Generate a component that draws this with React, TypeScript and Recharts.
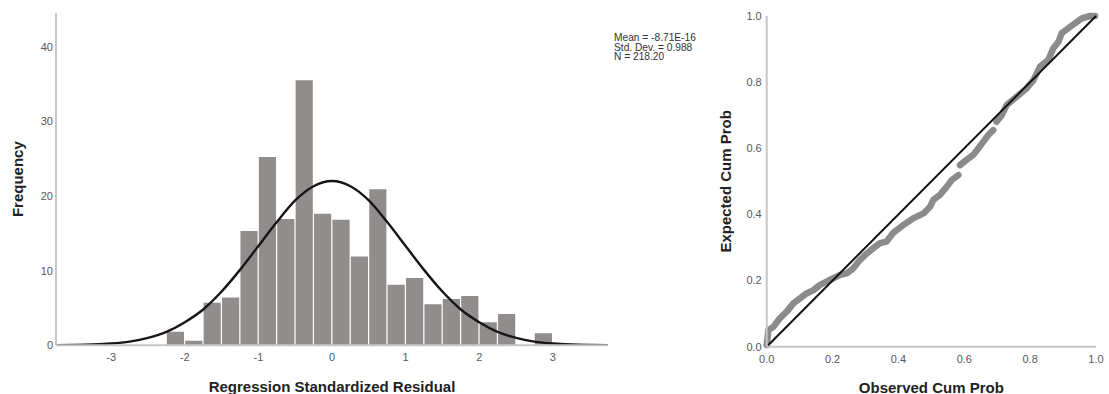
import { Bar, ComposedChart, Line, Rectangle, XAxis, YAxis } from 'recharts';

// Histogram bins (width 0.25) of the standardized residuals
const binCenters = [
  -2.125, -1.875, -1.625, -1.375, -1.125, -0.875, -0.625, -0.375, -0.125, 0.125,
  0.375, 0.625, 0.875, 1.125, 1.375, 1.625, 1.875, 2.125, 2.375, 2.625, 2.875,
];
const frequencies = [
  1.8, 0.6, 5.7, 6.4, 15.3, 25.2, 16.9, 35.5, 17.6, 16.8,
  11.9, 20.9, 8.1, 9.0, 5.5, 6.2, 6.6, 3.1, 4.2, 0, 1.6,
];

const curveX = [
  -3.75, -3.5, -3.25, -3, -2.75, -2.5, -2.25, -2, -1.75, -1.5, -1.25, -1, -0.75, -0.5, -0.25, 0,
  0.25, 0.5, 0.75, 1, 1.25, 1.5, 1.75, 2, 2.25, 2.5, 2.75, 3, 3.25, 3.5, 3.75,
];
const curveY = [
  0.02, 0.05, 0.11, 0.24, 0.5, 1.0, 1.8, 3.1, 4.8, 7.2, 10.1, 13.3, 16.5, 19.4, 21.3, 22.0,
  21.3, 19.4, 16.5, 13.3, 10.1, 7.2, 4.8, 3.1, 1.8, 1.0, 0.5, 0.24, 0.11, 0.05, 0.02,
];

const histXTicks = [-3, -2, -1, 0, 1, 2, 3];
const histYTicks = [0, 10, 20, 30, 40];
const summaryLines = ['Mean = -8.71E-16', 'Std. Dev. = 0.988', 'N = 218.20'];

// P-P plot: observed vs expected cumulative probability (null marks a break)
const observedProb = [
  0.0, 0.003, 0.005, 0.02, 0.04, 0.061, 0.081, 0.101, 0.121, 0.142, 0.162, 0.182, 0.202, 0.223,
  0.243, 0.263, 0.283, 0.304, 0.324, 0.344, 0.364, 0.385, 0.415, 0.445, 0.476, 0.496, 0.506,
  0.526, 0.547, 0.562, 0.582, 0.584, 0.587, 0.607, 0.627, 0.643, 0.658, 0.673, 0.688, 0.693,
  0.698, 0.714, 0.729, 0.759, 0.789, 0.81, 0.83, 0.855, 0.87, 0.886, 0.896, 0.916, 0.936,
  0.957, 0.982, 0.997,
];
const expectedProb = [
  0.005, 0.03, 0.05, 0.06, 0.086, 0.106, 0.131, 0.146, 0.161, 0.171, 0.187, 0.197, 0.207, 0.217,
  0.222, 0.237, 0.262, 0.282, 0.298, 0.313, 0.318, 0.345, 0.368, 0.388, 0.403, 0.423, 0.444,
  0.459, 0.484, 0.504, 0.519, null, 0.549, 0.565, 0.58, 0.6, 0.62, 0.64, 0.655, null,
  0.68, 0.7, 0.731, 0.756, 0.781, 0.806, 0.847, 0.867, 0.902, 0.922, 0.948, 0.963, 0.978,
  0.993, 1.0, 1.0,
];
const diagonalProb = [0, 1];
const ppTicks = [0, 0.2, 0.4, 0.6, 0.8, 1];

const bins = binCenters.map((x, i) => ({ x, freq: frequencies[i] }));
const curve = curveX.map((x, i) => ({ x, freq: curveY[i] }));
const ppPoints = observedProb.map((p, i) => ({ observed: p, expected: expectedProb[i] }));
const diagonal = diagonalProb.map((p) => ({ observed: p, expected: p }));

const font = '"Liberation Sans", Arial, sans-serif';
const axisStroke = { stroke: '#c6c6c6', strokeWidth: 2 };
const tickStyle = { fill: '#585858', fontSize: 11, fontFamily: font };
const BAR_WIDTH = 17.2;

const bottomTitle = (text: string, dy: number) => (props: any) => {
  const { x, y, width } = props.viewBox;
  return (
    <text x={x + width / 2} y={y + dy} textAnchor="middle" dominantBaseline="central" fontFamily={font} fontSize={15} fontWeight="bold" fill="#222">
      {text}
    </text>
  );
};

const sideTitle = (text: string, cx: number) => (props: any) => {
  const { y, height } = props.viewBox;
  const cy = y + height / 2;
  return (
    <text x={cx} y={cy} transform={`rotate(-90 ${cx} ${cy})`} textAnchor="middle" dominantBaseline="central" fontFamily={font} fontSize={15} fontWeight="bold" fill="#222">
      {text}
    </text>
  );
};

// keep every bin the full bin width, centred on its value
const BinBar = (props: any) => {
  const { x, width, y, height, fill } = props;
  if (!height) return null;
  const cx = x + width / 2;
  return <Rectangle x={cx - BAR_WIDTH / 2} y={y} width={BAR_WIDTH} height={height} fill={fill} />;
};

function Histogram() {
  return (
    <ComposedChart width={640} height={394} data={bins} margin={{ top: 13, right: 32, bottom: 28.7, left: 26 }}>
      <XAxis
        type="number"
        dataKey="x"
        domain={[-3.75, 3.75]}
        ticks={histXTicks}
        allowDataOverflow
        axisLine={axisStroke}
        tickLine={false}
        tick={tickStyle}
        height={20}
        label={{ content: bottomTitle('Regression Standardized Residual', 41.4) }}
      />
      <YAxis
        type="number"
        domain={[0, 44.5]}
        ticks={histYTicks}
        allowDataOverflow
        axisLine={axisStroke}
        tickLine={false}
        tick={tickStyle}
        tickSize={2}
        tickMargin={1}
        width={30}
        label={{ content: sideTitle('Frequency', 18) }}
      />
      <Bar dataKey="freq" fill="#928d8d" shape={BinBar} isAnimationActive={false} />
      <Line data={curve} dataKey="freq" type="monotone" stroke="#161616" strokeWidth={2.4} dot={false} activeDot={false} isAnimationActive={false} />
    </ComposedChart>
  );
}

function PPPlot() {
  return (
    <ComposedChart width={409} height={394} margin={{ top: 16, right: 13, bottom: 27.3, left: 36.7 }}>
      <XAxis
        type="number"
        dataKey="observed"
        domain={[0, 1]}
        ticks={ppTicks}
        tickFormatter={(v: number) => v.toFixed(1)}
        axisLine={axisStroke}
        tickLine={false}
        tick={tickStyle}
        height={20}
        label={{ content: bottomTitle('Observed Cum Prob', 40.3) }}
      />
      <YAxis
        type="number"
        dataKey="expected"
        domain={[0, 1]}
        ticks={ppTicks}
        tickFormatter={(v: number) => v.toFixed(1)}
        axisLine={axisStroke}
        tickLine={false}
        tick={tickStyle}
        tickSize={2}
        tickMargin={3}
        width={30}
        label={{ content: sideTitle('Expected Cum Prob', 26) }}
      />
      <Line data={ppPoints} dataKey="expected" stroke="#8b8b8b" strokeWidth={6.5} strokeLinecap="round" strokeLinejoin="round" dot={false} activeDot={false} isAnimationActive={false} />
      <Line data={diagonal} dataKey="expected" stroke="#111" strokeWidth={2} dot={false} activeDot={false} isAnimationActive={false} />
    </ComposedChart>
  );
}

export default function App() {
  return (
    <div style={{ position: 'absolute', left: 0, top: 0, width: 1109, height: 394, background: '#fff', fontFamily: font }}>
      <div style={{ position: 'absolute', left: 0, top: 0 }}>
        <Histogram />
      </div>
      <div style={{ position: 'absolute', left: 614, top: 32.8, fontSize: 10.2, lineHeight: '9.8px', color: '#333', whiteSpace: 'nowrap' }}>
        {summaryLines.map((line) => (
          <div key={line}>{line}</div>
        ))}
      </div>
      <div style={{ position: 'absolute', left: 700, top: 0 }}>
        <PPPlot />
      </div>
    </div>
  );
}
